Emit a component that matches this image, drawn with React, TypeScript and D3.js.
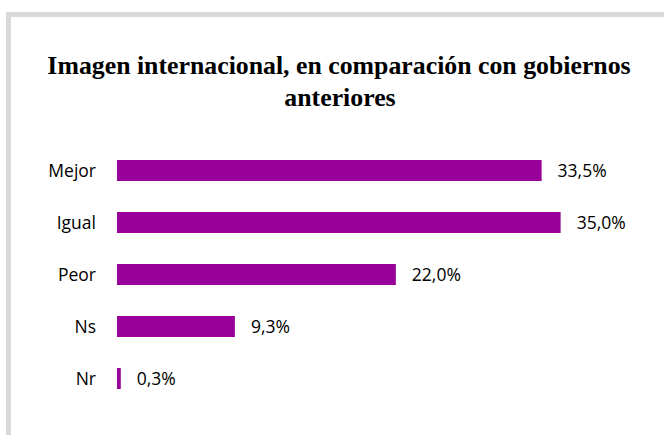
import React from "react";
import * as d3 from "d3";

const title1 = "Imagen internacional, en comparación con gobiernos";
const title2 = "anteriores";
const categories = ["Mejor", "Igual", "Peor", "Ns", "Nr"];
const values = [33.5, 35.0, 22.0, 9.3, 0.3];
const valueLabels = ["33,5%", "35,0%", "22,0%", "9,3%", "0,3%"];

const W = 664;
const H = 435;

export default function App() {
  const x = d3.scaleLinear().domain([0, 40]).range([117, 624]);
  const y = d3
    .scaleBand<string>()
    .domain(categories)
    .range([144.5, 404.5])
    .paddingInner(31 / 52)
    .paddingOuter(31 / 104);
  const font = "'Open Sans', 'Noto Sans', sans-serif";
  const titleFont = "'Liberation Serif', serif";
  return (
    <svg
      width={W}
      height={H}
      style={{ position: "absolute", left: 0, top: 0, background: "#fff" }}
    >
      <rect x={0} y={0} width={W} height={H} fill="#fff" />
      <rect
        x={8.5}
        y={14.5}
        width={W + 20}
        height={H + 20}
        fill="#fff"
        stroke="#d9d9d9"
        strokeWidth={5}
      />
      <text
        x={339}
        y={74}
        textAnchor="middle"
        fontFamily={titleFont}
        fontWeight="bold"
        fontSize={25.8}
        fill="#000"
      >
        {title1}
      </text>
      <text
        x={340}
        y={106}
        textAnchor="middle"
        fontFamily={titleFont}
        fontWeight="bold"
        fontSize={25.8}
        fill="#000"
      >
        {title2}
      </text>
      {categories.map((c, i) => {
        const yy = y(c)!;
        const bw = y.bandwidth();
        return (
          <g key={c}>
            <rect
              x={x(0)}
              y={yy}
              width={x(values[i]) - x(0)}
              height={bw}
              fill="#990099"
            />
            <text
              x={96}
              y={yy + bw / 2}
              dy="0.36em"
              textAnchor="end"
              fontFamily={font}
              fontSize={17.5}
              fill="#000"
            >
              {c}
            </text>
            <text
              x={x(values[i]) + 16}
              y={yy + bw / 2}
              dy="0.36em"
              textAnchor="start"
              fontFamily={font}
              fontSize={17.5}
              fill="#000"
            >
              {valueLabels[i]}
            </text>
          </g>
        );
      })}
    </svg>
  );
}
